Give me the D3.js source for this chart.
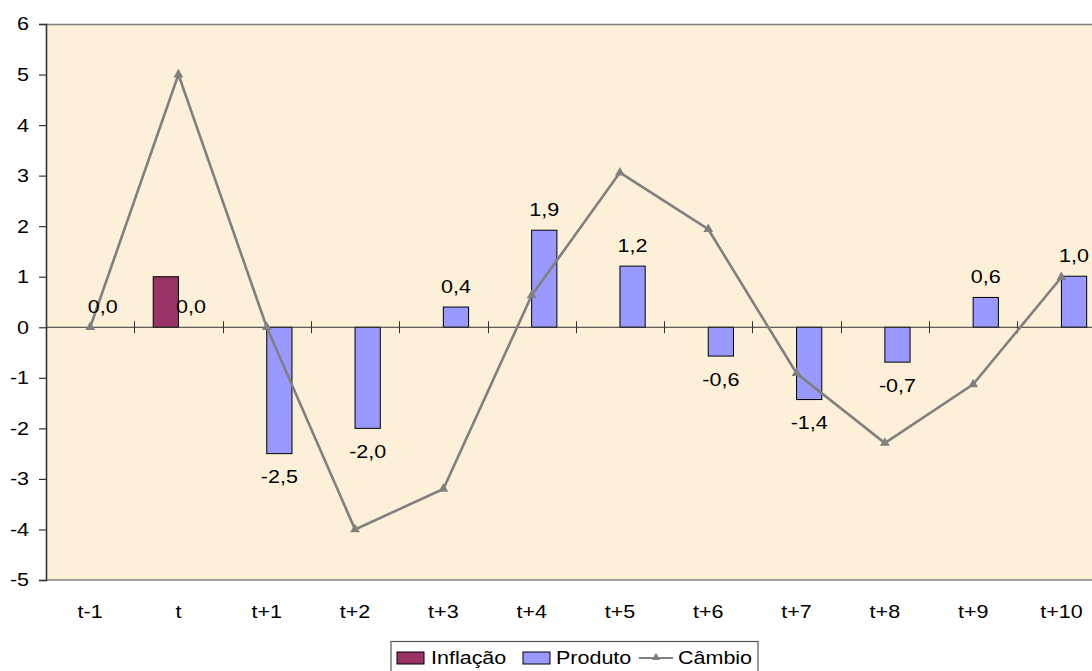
<!DOCTYPE html>
<html><head><meta charset="utf-8">
<script src="https://cdn.jsdelivr.net/npm/d3@7"></script>
<style>
html,body{margin:0;padding:0;background:#fff;overflow:hidden}
text{font-family:Arial,"Liberation Sans",sans-serif;fill:#000}
</style></head>
<body>
<svg id="c" width="1092" height="671"></svg>
<script>
const categories = ["t-1","t","t+1","t+2","t+3","t+4","t+5","t+6","t+7","t+8","t+9","t+10"];
const inflacao = [0, 1, null, null, null, null, null, null, null, null, null, null];
const produto = [0, 0, -2.5, -2.0, 0.4, 1.92, 1.21, -0.57, -1.43, -0.69, 0.59, 1.01];
const cambio = [0, 5, 0, -4.0, -3.2, 0.63, 3.06, 1.94, -0.91, -2.29, -1.13, 0.99];
const yTicks = [-5,-4,-3,-2,-1,0,1,2,3,4,5,6];
const seriesNames = ["Inflação","Produto","Câmbio"];
const colors = {"Inflação":"#993366","Produto":"#9999FF","Câmbio":"#808080"};

(function(){
const FS = 18.7, SX = 1.15;
const svg = d3.select("#c");
const pLeft = 46, pTop = 24, pBottom = 580, bw = 88.3;
const x = d3.scaleBand().domain(categories).range([pLeft, pLeft + bw*categories.length]);
const y = d3.scaleLinear().domain([-5,6]).range([pBottom, pTop]);
const w = x.bandwidth()/3.5;
const off = (x.bandwidth() - 2*w)/2;

// plot background
svg.append("rect").attr("x", pLeft).attr("y", pTop).attr("width", x.range()[1]-pLeft).attr("height", pBottom-pTop).attr("fill","#FCF0D8");
svg.append("line").attr("x1",pLeft).attr("x2",x.range()[1]).attr("y1",pTop+0.5).attr("y2",pTop+0.5).attr("stroke","#808080").attr("stroke-width",1.5);
svg.append("line").attr("x1",pLeft).attr("x2",x.range()[1]).attr("y1",pBottom).attr("y2",pBottom).attr("stroke","#808080").attr("stroke-width",1.5);

// bars
const g = svg.append("g");
inflacao.forEach((v,i)=>{
  if(v===null||v===0) return;
  const x0 = x(categories[i]) + off;
  g.append("rect").attr("x",x0).attr("width",w).attr("y",y(Math.max(0,v))).attr("height",Math.abs(y(v)-y(0)))
   .attr("fill",colors["Inflação"]).attr("stroke","#000").attr("stroke-width",1);
});
produto.forEach((v,i)=>{
  const x0 = x(categories[i]) + off + w;
  if(v!==0) g.append("rect").attr("x",x0).attr("width",w).attr("y",y(Math.max(0,v))).attr("height",Math.abs(y(v)-y(0)))
   .attr("fill",colors["Produto"]).attr("stroke","#000").attr("stroke-width",1);
});

// x axis at zero
const xa = svg.append("g").attr("transform",`translate(0,${y(0)})`);
xa.append("line").attr("x1",pLeft).attr("x2",x.range()[1]).attr("stroke","#333").attr("stroke-width",1);
categories.forEach((c,i)=>{
  if(i===0) return;
  const tx = Math.round(x(c))+0.5;
  xa.append("line").attr("x1",tx).attr("x2",tx).attr("y1",-6).attr("y2",6).attr("stroke","#333").attr("stroke-width",1);
});
categories.forEach(c=>{
  svg.append("text").attr("transform",`translate(${x(c)+x.bandwidth()/2},618) scale(${SX},1)`).attr("text-anchor","middle").attr("font-size",FS).text(c);
});

// y axis
const ya = svg.append("g").attr("transform",`translate(${pLeft},0)`)
  .call(d3.axisLeft(y).tickValues(yTicks).tickSize(7).tickPadding(10).tickFormat(d=>String(d)));
ya.select(".domain").attr("stroke","#333").attr("stroke-width",1.6);
ya.selectAll(".tick line").attr("stroke","#333").attr("stroke-width",1.2);
ya.selectAll(".tick text").attr("font-size",FS).attr("font-family","Arial,'Liberation Sans',sans-serif").attr("fill","#000")
  .attr("transform",`scale(${SX},1)`).attr("x",-17/SX);

// line
const pts = cambio.map((v,i)=>[x(categories[i])+x.bandwidth()/2, y(v)]);
svg.append("path").attr("d",d3.line()(pts)).attr("fill","none").attr("stroke",colors["Câmbio"]).attr("stroke-width",2.6).attr("stroke-linejoin","miter");
const tri = d3.symbol().type(d3.symbolTriangle).size(42);
pts.forEach(p=>{
  svg.append("path").attr("d",tri()).attr("transform",`translate(${p[0]},${p[1]})`).attr("fill","#808080");
});

// data labels (Produto)
produto.forEach((v,i)=>{
  const cx = x(categories[i]) + off + w + w/2;
  const by = v>=0 ? y(v)-14 : y(v)+29.7;
  svg.append("text").attr("transform",`translate(${cx},${by}) scale(${SX},1)`).attr("text-anchor","middle")
   .attr("font-size",FS).text(d3.format(".1f")(Math.abs(v)<0.05?0:v).replace(".",",").replace("−","-"));
});

// legend
const lg = svg.append("g");
lg.append("rect").attr("x",391).attr("y",641.5).attr("width",367).attr("height",40).attr("fill","#fff").attr("stroke","#555").attr("stroke-width",1.2);
lg.append("rect").attr("x",397).attr("y",652).attr("width",27).attr("height",12).attr("fill",colors["Inflação"]).attr("stroke","#000");
lg.append("text").attr("transform",`translate(431,664) scale(${SX},1)`).attr("font-size",FS).text(seriesNames[0]);
lg.append("rect").attr("x",523).attr("y",652).attr("width",27).attr("height",12).attr("fill",colors["Produto"]).attr("stroke","#000");
lg.append("text").attr("transform",`translate(556,664) scale(${SX},1)`).attr("font-size",FS).text(seriesNames[1]);
lg.append("line").attr("x1",639).attr("x2",673).attr("y1",658).attr("y2",658).attr("stroke","#808080").attr("stroke-width",2);
lg.append("path").attr("d",d3.symbol().type(d3.symbolTriangle).size(30)()).attr("transform","translate(656,657.5)").attr("fill","#808080");
lg.append("text").attr("transform",`translate(678,664) scale(${SX},1)`).attr("font-size",FS).text(seriesNames[2]);
})();
</script>
</body></html>
